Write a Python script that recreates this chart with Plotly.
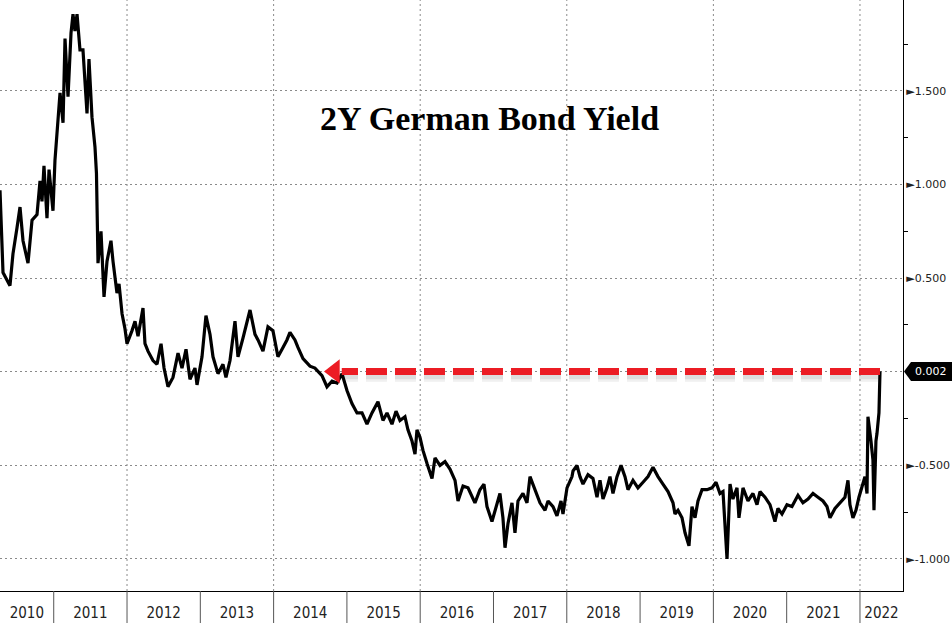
import plotly.graph_objects as go

# ---- data ----
years = [
    2010.267, 2010.308, 2010.403, 2010.444, 2010.499, 2010.540, 2010.581, 2010.649, 2010.704, 2010.772,
    2010.813, 2010.840, 2010.867, 2010.908, 2010.936, 2010.990, 2011.017, 2011.045, 2011.086, 2011.127,
    2011.154, 2011.195, 2011.236, 2011.263, 2011.290, 2011.318, 2011.358, 2011.399, 2011.427, 2011.454,
    2011.481, 2011.522, 2011.563, 2011.583, 2011.597, 2011.604, 2011.645, 2011.686, 2011.727, 2011.781,
    2011.809, 2011.863, 2011.891, 2011.932, 2011.972,
    2012.000, 2012.068, 2012.109, 2012.150, 2012.218, 2012.245, 2012.286, 2012.354, 2012.409, 2012.464,
    2012.505, 2012.559, 2012.627, 2012.696, 2012.750, 2012.805, 2012.859, 2012.927, 2012.955, 2013.023,
    2013.077, 2013.132, 2013.173, 2013.241, 2013.309, 2013.350, 2013.405, 2013.473, 2013.514, 2013.582,
    2013.678, 2013.746, 2013.787, 2013.855, 2013.923, 2013.991, 2014.059, 2014.128, 2014.182, 2014.223,
    2014.291, 2014.332, 2014.401, 2014.496, 2014.564, 2014.660, 2014.728, 2014.797, 2014.865, 2014.933,
    2015.001, 2015.069, 2015.138, 2015.206, 2015.274, 2015.342, 2015.424, 2015.492, 2015.547, 2015.615,
    2015.670, 2015.724, 2015.792, 2015.833, 2015.888, 2015.929, 2015.956, 2015.997, 2016.038, 2016.093,
    2016.161, 2016.202, 2016.270, 2016.338, 2016.406, 2016.475, 2016.516, 2016.584, 2016.652, 2016.747,
    2016.815, 2016.870, 2016.911, 2016.979, 2017.020, 2017.088, 2017.129, 2017.157, 2017.198, 2017.252,
    2017.293, 2017.334, 2017.402, 2017.457, 2017.498, 2017.566, 2017.634,
    2017.703, 2017.744, 2017.812, 2017.866, 2017.921, 2017.948, 2018.003, 2018.071, 2018.085, 2018.139,
    2018.180, 2018.221, 2018.289, 2018.357, 2018.412, 2018.453, 2018.494, 2018.549, 2018.589, 2018.630,
    2018.685, 2018.740, 2018.794, 2018.835, 2018.903, 2018.971, 2019.040, 2019.108, 2019.176, 2019.244,
    2019.312, 2019.381, 2019.449, 2019.476, 2019.517, 2019.572, 2019.613, 2019.667, 2019.708, 2019.749,
    2019.790, 2019.845, 2019.913, 2019.981, 2020.036, 2020.090, 2020.131, 2020.186, 2020.227, 2020.267,
    2020.322, 2020.349, 2020.404,
    2020.472, 2020.540, 2020.595, 2020.636, 2020.704, 2020.772, 2020.840, 2020.881, 2020.936, 2021.004,
    2021.072, 2021.154, 2021.222, 2021.291, 2021.359, 2021.427, 2021.495, 2021.550, 2021.591, 2021.659,
    2021.727, 2021.795, 2021.836, 2021.863, 2021.904, 2021.945, 2021.986, 2022.027, 2022.068, 2022.096,
    2022.109, 2022.150, 2022.177, 2022.191, 2022.218, 2022.232, 2022.259, 2022.273,
]
yields = [
    0.97, 0.53, 0.46, 0.63, 0.77, 0.88, 0.70, 0.58, 0.81, 0.84,
    1.02, 0.91, 1.10, 0.82, 1.08, 0.86, 1.13, 1.29, 1.49, 1.33,
    1.78, 1.47, 1.81, 1.91, 1.82, 1.91, 1.72, 1.72, 1.56, 1.38,
    1.67, 1.36, 1.20, 1.06, 0.75, 0.58, 0.75, 0.40, 0.59, 0.70,
    0.59, 0.42, 0.47, 0.31, 0.23,
    0.15, 0.22, 0.27, 0.19, 0.34, 0.15, 0.11, 0.06, 0.04, 0.15,
    0.02, -0.08, -0.03, 0.10, 0.02, 0.12, -0.04, 0.02, -0.07, 0.08,
    0.30, 0.20, 0.08, -0.01, 0.04, -0.03, 0.06, 0.27, 0.08, 0.18,
    0.33, 0.20, 0.17, 0.11, 0.24, 0.22, 0.08, 0.13, 0.17, 0.21,
    0.17, 0.13, 0.07, 0.03, 0.02, -0.02, -0.08, -0.05, -0.06, -0.01,
    -0.10, -0.17, -0.22, -0.22, -0.28, -0.22, -0.16, -0.26, -0.22, -0.28,
    -0.21, -0.26, -0.24, -0.31, -0.37, -0.44, -0.31, -0.35, -0.42, -0.49,
    -0.57, -0.46, -0.50, -0.48, -0.52, -0.58, -0.69, -0.61, -0.62, -0.70,
    -0.63, -0.60, -0.72, -0.80, -0.74, -0.65, -0.78, -0.94, -0.81, -0.70,
    -0.86, -0.69, -0.65, -0.70, -0.56, -0.63, -0.70,
    -0.74, -0.69, -0.72, -0.77, -0.69, -0.76, -0.62, -0.56, -0.53, -0.50,
    -0.56, -0.60, -0.55, -0.57, -0.67, -0.58, -0.68, -0.62, -0.56, -0.65,
    -0.56, -0.50, -0.56, -0.63, -0.58, -0.62, -0.59, -0.56, -0.51, -0.56,
    -0.60, -0.64, -0.70, -0.76, -0.74, -0.78, -0.86, -0.93, -0.72, -0.78,
    -0.69, -0.63, -0.63, -0.62, -0.59, -0.65, -0.64, -1.00, -0.60, -0.68,
    -0.62, -0.78, -0.62,
    -0.69, -0.65, -0.71, -0.64, -0.67, -0.71, -0.80, -0.73, -0.76, -0.71,
    -0.72, -0.66, -0.70, -0.68, -0.65, -0.67, -0.69, -0.72, -0.78, -0.73,
    -0.70, -0.67, -0.58, -0.71, -0.78, -0.74, -0.67, -0.62, -0.56, -0.65,
    -0.24, -0.37, -0.47, -0.74, -0.37, -0.33, -0.22, 0.002,
]

title_text = "2Y German Bond Yield"
year_labels = [str(y) for y in range(2010, 2023)]
y_major = [-1.0, -0.5, 0.0, 0.5, 1.0, 1.5]
y_minor = [-0.75, -0.25, 0.25, 0.75, 1.25, 1.75]
arrow_from_year = 2014.93     # where the yield last stood at today's level
arrow_head_year = 2014.83

# ---- layout constants ----
W, H = 952, 623
ML, MR, MT, MB = 0, 49, 0, 32
PW, PH = W - ML - MR, H - MT - MB
X0, X1 = 2010.267, 2022.587
Y0, Y1 = -1.171, 1.986

last = yields[-1]
last_year = years[-1]

def xp(year):
    return (year - X0) / (X1 - X0)

def yp(val):
    return (val - Y0) / (Y1 - Y0)

fig = go.Figure()

# soft shadow under the red arrow
for off, alpha, wid in [(0.026, 0.08, 11), (0.020, 0.10, 8)]:
    fig.add_trace(go.Scatter(
        x=[last_year, arrow_from_year], y=[last - off, last - off],
        mode="lines", line=dict(color=f"rgba(60,60,60,{alpha})", width=wid, dash="21px,8px"),
        hoverinfo="skip", showlegend=False))

# main series
fig.add_trace(go.Scatter(
    x=years, y=yields, mode="lines",
    line=dict(color="#000000", width=3.2),
    hoverinfo="skip", showlegend=False))

# red dashed arrow at today's level
fig.add_trace(go.Scatter(
    x=[last_year, arrow_from_year], y=[last, last],
    mode="lines", line=dict(color="#ec1c24", width=7, dash="21px,8px"),
    hoverinfo="skip", showlegend=False))
fig.add_trace(go.Scatter(
    x=[arrow_head_year], y=[last], mode="markers",
    marker=dict(symbol="triangle-left", size=21, color="#ec1c24", line=dict(width=0)),
    hoverinfo="skip", showlegend=False))

shapes = []
# vertical dotted gridlines every two years
for yr in range(2012, 2023, 2):
    shapes.append(dict(type="line", xref="paper", yref="paper",
                       x0=xp(yr), x1=xp(yr), y0=0, y1=1, layer="below",
                       line=dict(color="#8a8a8a", width=1, dash="2px,3px")))
# year separators in the bottom band
for yr in range(2011, 2023):
    shapes.append(dict(type="line", xref="paper", yref="paper",
                       x0=xp(yr), x1=xp(yr), y0=0, y1=-MB / PH,
                       line=dict(color="#555555", width=1)))
# last value tag
yc = yp(last)
hh = 9.5 / PH
shapes.append(dict(type="path", xref="paper", yref="paper",
                   path=f"M {1 + 1/PW},{yc} L {1 + 8/PW},{yc + hh} L {(W - ML) / PW},{yc + hh} "
                        f"L {(W - ML) / PW},{yc - hh} L {1 + 8/PW},{yc - hh} Z",
                   fillcolor="#000000", line=dict(width=0)))

# tick label positions for years: centred in each visible year segment
tick_pos = []
for i, lab in enumerate(year_labels):
    yr = 2010 + i
    a, b = max(yr, X0), min(yr + 1, X1)
    tick_pos.append((a + b) / 2)

tri = '<span style="font-size:11px">&#9658;</span>'
y_ticktext = ["" if v == 0 else tri + f"{v:.3f}" for v in y_major]

fig.update_layout(
    width=W, height=H,
    margin=dict(l=ML, r=MR, t=MT, b=MB, pad=0, autoexpand=False),
    paper_bgcolor="white", plot_bgcolor="white",
    showlegend=False,
    shapes=shapes,
    xaxis=dict(range=[X0, X1], showgrid=False, zeroline=False,
               showline=True, linecolor="#000000", linewidth=1,
               tickvals=tick_pos, ticktext=year_labels, ticks="",
               ticklabelstandoff=8, automargin=False,
               tickfont=dict(family="Liberation Sans Narrow, DejaVu Sans Condensed, Arial Narrow, sans-serif",
                             size=15, color="#222222"),
               fixedrange=True),
    yaxis=dict(range=[Y0, Y1], side="right", zeroline=False,
               showline=True, linecolor="#000000", linewidth=1,
               showgrid=True, gridcolor="#8a8a8a", gridwidth=1, griddash="2px,3px",
               tickvals=y_major, ticktext=y_ticktext, ticks="",
               ticklabelstandoff=0, automargin=False,
               tickfont=dict(family="DejaVu Sans, Verdana, sans-serif", size=11, color="#222222"),
               minor=dict(tickvals=y_minor, ticks="outside", ticklen=4, tickcolor="#000000",
                          tickwidth=1, showgrid=False),
               fixedrange=True),
    annotations=[
        dict(text=f"<b>{title_text}</b>", xref="paper", yref="paper",
             x=490 / PW, y=1 - 119 / PH, xanchor="center", yanchor="middle",
             showarrow=False,
             font=dict(family="Liberation Serif, DejaVu Serif, serif", size=34, color="#000000")),
        dict(text=f"{last:.3f}", xref="paper", yref="paper",
             x=1 + 10 / PW, y=yc, xanchor="left", yanchor="middle", showarrow=False,
             font=dict(family="DejaVu Sans, Verdana, sans-serif", size=11, color="#ffffff")),
    ],
)

fig.write_html("out.html", config={"displayModeBar": False},
               post_script="document.body.style.margin='0';document.body.style.overflow='hidden';")
